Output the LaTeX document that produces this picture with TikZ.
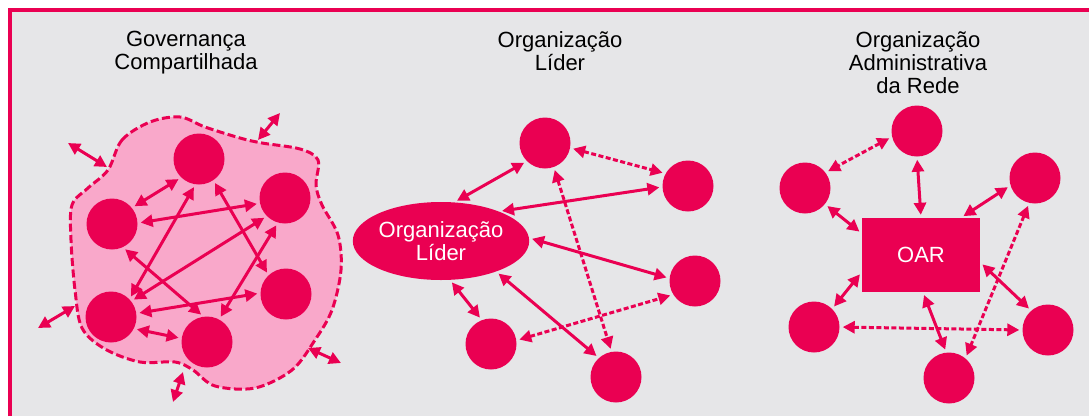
\documentclass[tikz,border=0pt]{standalone}
\usepackage{fontspec}
\setmainfont{Liberation Sans}
\usetikzlibrary{shapes.geometric,arrows.meta}
\definecolor{rosa}{RGB}{234,0,82}
\definecolor{rosaclaro}{RGB}{249,168,202}
\definecolor{fundo}{RGB}{230,230,232}
\begin{document}
\begin{tikzpicture}[x=1pt,y=-1pt,
main/.style = {circle, fill=rosa, minimum size=51pt, inner sep=0pt},
lider/.style = {ellipse, fill=rosa, minimum width=146pt, minimum height=78pt, inner sep=0pt, text=white, align=center, font=\fontsize{22}{23}\selectfont},
oar/.style = {rectangle, fill=rosa, minimum width=118pt, minimum height=74pt, inner sep=0pt, text=white, font=\fontsize{22}{23}\selectfont},
titulo/.style = {anchor=north, inner sep=0pt, align=center, font=\fontsize{22}{23}\selectfont},
seta/.style = {{Triangle[length=12pt,width=12pt]}-{Triangle[length=12pt,width=12pt]}, draw=rosa, line width=3pt, shorten >=3pt, shorten <=3pt},
tracejada/.style = {seta, dash pattern=on 5pt off 2.5pt},
nuvem/.style = {fill=rosaclaro, draw=rosa, line width=3pt, dash pattern=on 8pt off 3.5pt}]
\useasboundingbox (0,0) rectangle (1089,416);
\fill[fundo] (10,10) rectangle (1089,416);
\draw[rosa, line width=4pt] (10,416) -- (10,10) -- (1089,10);
\node[titulo] (t1) at (186,31) {Governança\\Compartilhada};
\node[titulo] (t2) at (560,31) {Organização\\Líder};
\node[titulo] (t3) at (918,31) {Organização\\Administrativa\\da Rede};
\draw[nuvem] plot[smooth cycle, tension=0.55] coordinates {(108,170) (122,140) (150,122) (180,117) (205,127) (240,138) (262,143) (300,149) (318,160) (316,185) (322,205) (338,235) (341,270) (332,310) (315,340) (292,370) (255,388) (215,386) (193,370) (175,362) (140,362) (105,349) (82,328) (75,290) (71,240) (72,205) (88,188)};
\node[main] (g1) at (199,159) {};
\node[main] (g2) at (285,198) {};
\node[main] (g3) at (112,224) {};
\node[main] (g4) at (286,294) {};
\node[main] (g5) at (111,317) {};
\node[main] (g6) at (207,342) {};
\draw[seta] (g1.226) -- (g3.39);
\draw[seta] (g3.2) -- (g2.192);
\draw[seta] (g1.262) -- (g5.44);
\draw[seta] (g2.225) -- (g5.38);
\draw[seta] (g3.295) -- (g6.98);
\draw[seta] (g1.304) -- (g4.133);
\draw[seta] (g2.254) -- (g6.62);
\draw[seta] (g5.8) -- (g4.178);
\draw[seta] (g5.333) -- (g6.172);
\coordinate (f1) at (68,143);
\coordinate (f2) at (107,167);
\coordinate (f3) at (280,113);
\coordinate (f4) at (258,140);
\coordinate (f5) at (38,328);
\coordinate (f6) at (75,306);
\coordinate (f7) at (308,348);
\coordinate (f8) at (341,363);
\coordinate (f9) at (183,372);
\coordinate (f10) at (173,402);
\draw[seta, shorten >=0pt, shorten <=0pt] (f1) -- (f2);
\draw[seta, shorten >=0pt, shorten <=0pt] (f3) -- (f4);
\draw[seta, shorten >=0pt, shorten <=0pt] (f5) -- (f6);
\draw[seta, shorten >=0pt, shorten <=0pt] (f7) -- (f8);
\draw[seta, shorten >=0pt, shorten <=0pt] (f9) -- (f10);
\node[lider] (l0) at (441,241) {Organização\\Líder};
\node[main] (l1) at (545,143) {};
\node[main] (l2) at (688,186) {};
\node[main] (l3) at (695,281) {};
\node[main] (l4) at (491,344) {};
\node[main] (l5) at (616,377) {};
\draw[seta] (l0.71) -- (l1.225);
\draw[seta] (l0.27) -- (l2.182);
\draw[seta] (l0.2) -- (l3.174);
\draw[seta] (l0.283) -- (l4.111);
\draw[seta] (l0.331) -- (l5.132);
\draw[tracejada] (l1.349) -- (l2.151);
\draw[tracejada] (l1.290) -- (l5.100);
\draw[tracejada] (l4.8) -- (l3.212);
\node[oar] (o0) at (921,255) {OAR};
\node[main] (o1) at (917,131) {};
\node[main] (o2) at (805,188) {};
\node[main] (o3) at (1035,178) {};
\node[main] (o4) at (814,327) {};
\node[main] (o5) at (1048,330) {};
\node[main] (o6) at (949,378) {};
\draw[tracejada] (o1.193) -- (o2.37);
\draw[seta] (o1.270) -- (o0.north);
\draw[seta] (o2.321) -- (o0.160);
\draw[seta] (o3.197) -- (o0.43);
\draw[seta] (o0.196) -- (o4.45);
\draw[seta] (o0.353) -- (o5.131);
\draw[seta] (o0.273) -- (o6.96);
\draw[tracejada] (o4.east) -- (o5.west);
\draw[tracejada] (o3.257) -- (o6.50);
\end{tikzpicture}
\end{document}
